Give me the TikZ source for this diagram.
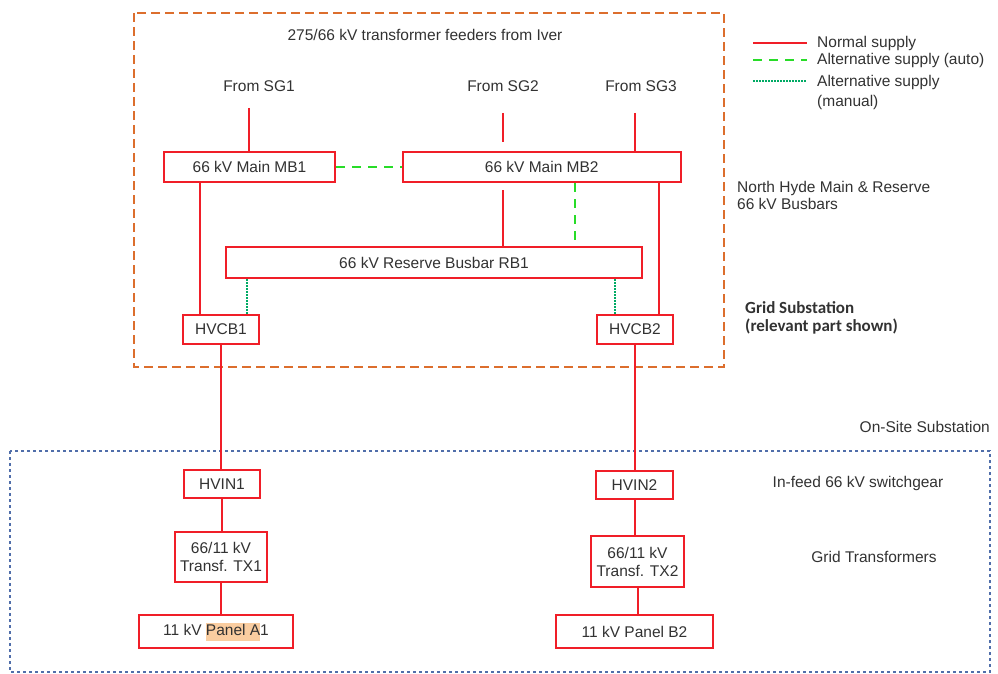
\documentclass[tikz,border=0pt]{standalone}
\usepackage{fontspec}
\setmainfont{Liberation Sans}
\newfontfamily\boldlabel{Carlito}
\definecolor{boxred}{RGB}{240,30,40}
\definecolor{autogreen}{RGB}{40,220,40}
\definecolor{mangreen}{RGB}{0,170,100}
\definecolor{orangeb}{RGB}{220,110,45}
\definecolor{blueb}{RGB}{80,110,170}
\definecolor{txt}{RGB}{50,50,50}
\definecolor{hl}{RGB}{250,205,160}
\begin{document}
\begin{tikzpicture}[x=1pt,y=-1pt,
  every node/.style={font=\fontsize{15.5}{18}\selectfont, text=txt, inner sep=0pt},
  bx/.style={draw=boxred, line width=2pt, fill=white, align=center},
  normal/.style={draw=boxred, line width=2pt},
  auto/.style={draw=autogreen, line width=2.5pt, dash pattern=on 9pt off 7pt},
  manual/.style={draw=mangreen, line width=1.5pt, dash pattern=on 1.5pt off 1.5pt},
  lbl/.style={align=left}]
\useasboundingbox (0,0) rectangle (998,674);
% frames
\draw[orangeb, line width=2.5pt, dash pattern=on 9pt off 5pt] (134,13) rectangle (724,367);
\draw[blueb, line width=1.5pt, dash pattern=on 3pt off 3pt] (10,451) rectangle (990,672);
% boxes
\node[bx, minimum width=171pt, minimum height=30pt] (MB1) at (249.5,167) {66 kV Main MB1};
\node[bx, minimum width=278pt, minimum height=30pt] (MB2) at (541.75,167) {66 kV Main MB2};
\node[bx, minimum width=416pt, minimum height=31pt] (RB1) at (434,262.5) {66 kV Reserve Busbar RB1};
\node[bx, minimum width=76pt, minimum height=29pt] (CB1) at (221,329.5) {HVCB1};
\node[bx, minimum width=76pt, minimum height=29pt] (CB2) at (635,329.5) {HVCB2};
\node[bx, minimum width=76pt, minimum height=28pt] (IN1) at (222,484) {HVIN1};
\node[bx, minimum width=77pt, minimum height=28pt] (IN2) at (634.5,485) {HVIN2};
\node[bx, minimum width=92pt, minimum height=50pt] (TX1) at (221,557) {66/11 kV\\Transf. TX1};
\node[bx, minimum width=93pt, minimum height=51pt] (TX2) at (637.5,561.5) {66/11 kV\\Transf. TX2};
\node[bx, minimum width=154pt, minimum height=33pt] (PA1) at (216,631.5) {11 kV {\setlength{\fboxsep}{0pt}\colorbox{hl}{\strut Panel A}}1};
\node[bx, minimum width=157pt, minimum height=33pt] (PB2) at (634.5,631.5) {11 kV Panel B2};
% texts
\node (title) at (425,35) {275/66 kV transformer feeders from Iver};
\node (SG1) at (259,86) {From SG1};
\node (SG2) at (503,86) {From SG2};
\node (SG3) at (641,86) {From SG3};
% free ends
\coordinate (s1) at (249,108);
\coordinate (s2a) at (503,113);
\coordinate (s2b) at (503,142);
\coordinate (s2c) at (503,190);
\coordinate (s3) at (635,113);
\coordinate (g1) at (575,242);
% connectors
\draw[normal] (s1) -- (s1 |- MB1.north);
\draw[normal] (s2a) -- (s2b);
\draw[normal] (s3) -- (s3 |- MB2.north);
\draw[normal] (s2c) -- (s2c |- RB1.north);
\draw[auto] (MB1.east) -- (MB2.west);
\draw[auto] (g1 |- MB2.south) -- (g1);
\draw[normal] ([xshift=-21pt]CB1.north |- MB1.south) -- ([xshift=-21pt]CB1.north);
\draw[normal] ([xshift=24pt]CB2.north |- MB2.south) -- ([xshift=24pt]CB2.north);
\draw[manual] ([xshift=26pt]CB1.north |- RB1.south) -- ([xshift=26pt]CB1.north);
\draw[manual] ([xshift=-20pt]CB2.north |- RB1.south) -- ([xshift=-20pt]CB2.north);
\draw[normal] (CB1.south) -- (CB1.south |- IN1.north);
\draw[normal] (CB2.south) -- (CB2.south |- IN2.north);
\draw[normal] (IN1.south) -- (IN1.south |- TX1.north);
\draw[normal] (IN2.south) -- (IN2.south |- TX2.north);
\draw[normal] (TX1.south) -- (TX1.south |- PA1.north);
\draw[normal] (TX2.south) -- (TX2.south |- PB2.north);
% legend
\coordinate (l1a) at (753,43); \coordinate (l1b) at (807,43);
\coordinate (l2a) at (753,60); \coordinate (l2b) at (807,60);
\coordinate (l3a) at (753,81); \coordinate (l3b) at (807,81);
\draw[normal] (l1a) -- (l1b);
\draw[auto] (l2a) -- (l2b);
\draw[manual] (l3a) -- (l3b);
\node[anchor=west] (L1) at (817,43) {Normal supply};
\node[anchor=west] (L2) at (817,60) {Alternative supply (auto)};
\node[anchor=north west, lbl] (L3) at (817,75) {Alternative supply\\[2pt](manual)};
\node[anchor=west, lbl] (NH) at (737,195.5) {North Hyde Main \& Reserve\\[-1pt]66 kV Busbars};
\node[anchor=west, lbl, font=\boldlabel\bfseries\fontsize{17}{18.5}\selectfont] (GS) at (745,318) {Grid Substation\\(relevant part shown)};
\node[anchor=east] (OS) at (990,427) {On-Site Substation};
\node (IF) at (858,483) {In-feed 66 kV switchgear};
\node (GT) at (874,557) {Grid Transformers};
\end{tikzpicture}
\end{document}
